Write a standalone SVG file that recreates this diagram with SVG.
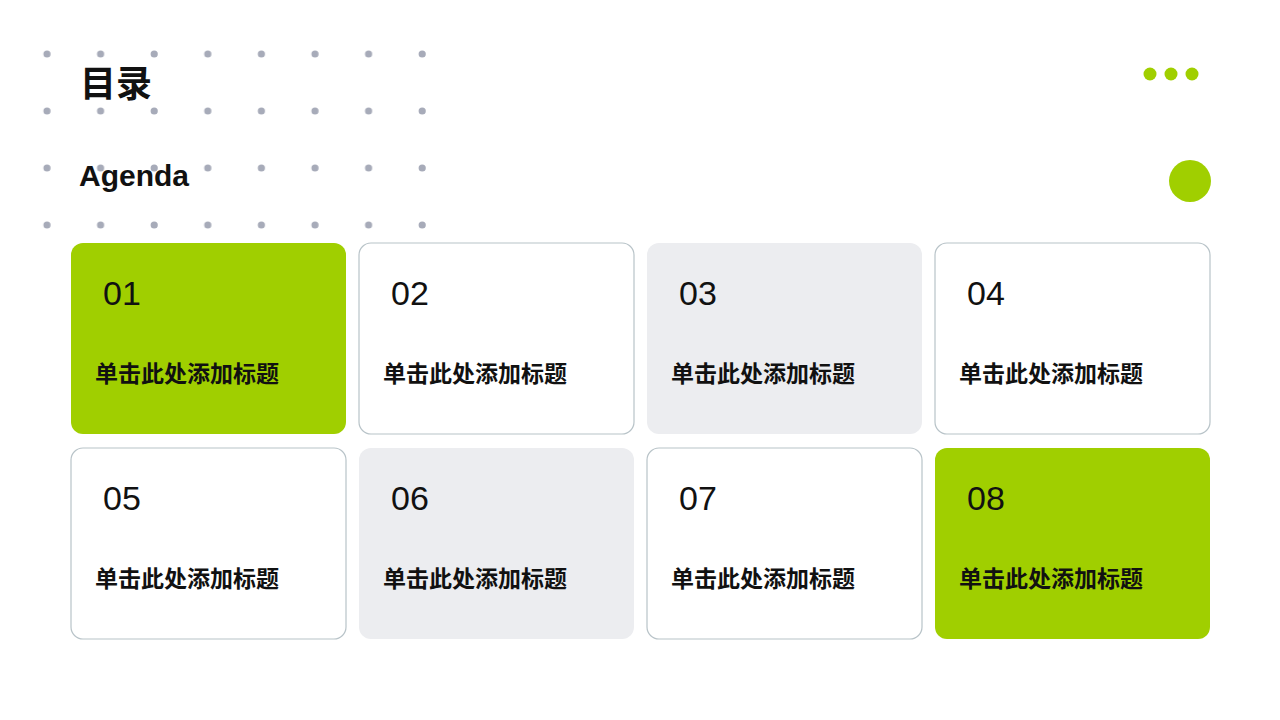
<svg xmlns="http://www.w3.org/2000/svg" width="1280" height="720" viewBox="0 0 1280 720">
<defs>
<style>
.dot{fill:#a7abb9}
.g{fill:#a0cf00}
.card{stroke:none}
.w{fill:#fff;stroke:#b8c3c8;stroke-width:1.2}
.gr{fill:#ecedf0}
.num{font-family:"Liberation Sans",Arial,sans-serif;font-size:34px;fill:#111}
.t{font-family:"Noto Sans CJK SC","Liberation Sans",sans-serif;font-size:23px;font-weight:bold;fill:#111}
</style>
<pattern id="dots" x="20" y="27" width="53.6" height="57" patternUnits="userSpaceOnUse">
<circle cx="27" cy="27" r="3.6" class="dot"/>
</pattern>
</defs>
<rect width="1280" height="720" fill="#fff"/>
<rect x="20" y="27" width="429" height="228" fill="url(#dots)"/>
<text x="80" y="97" font-family="Noto Sans CJK SC,sans-serif" font-size="36" font-weight="bold" fill="#111">目录</text>
<text x="79" y="186" font-family="Liberation Sans,Arial,sans-serif" font-size="30" font-weight="bold" fill="#111">Agenda</text>
<circle cx="1150" cy="74" r="6.5" class="g"/>
<circle cx="1171" cy="74" r="6.5" class="g"/>
<circle cx="1192" cy="74" r="6.5" class="g"/>
<circle cx="1190" cy="181" r="21" class="g"/>
<g id="card1"><rect x="71" y="243" width="275" height="191" rx="12" class="g"/><text x="103" y="305" class="num">01</text><text x="95" y="382" class="t">单击此处添加标题</text></g>
<g id="card2"><rect x="359" y="243" width="275" height="191" rx="12" class="w"/><text x="391" y="305" class="num">02</text><text x="383" y="382" class="t">单击此处添加标题</text></g>
<g id="card3"><rect x="647" y="243" width="275" height="191" rx="12" class="gr"/><text x="679" y="305" class="num">03</text><text x="671" y="382" class="t">单击此处添加标题</text></g>
<g id="card4"><rect x="935" y="243" width="275" height="191" rx="12" class="w"/><text x="967" y="305" class="num">04</text><text x="959" y="382" class="t">单击此处添加标题</text></g>
<g id="card5"><rect x="71" y="448" width="275" height="191" rx="12" class="w"/><text x="103" y="510" class="num">05</text><text x="95" y="587" class="t">单击此处添加标题</text></g>
<g id="card6"><rect x="359" y="448" width="275" height="191" rx="12" class="gr"/><text x="391" y="510" class="num">06</text><text x="383" y="587" class="t">单击此处添加标题</text></g>
<g id="card7"><rect x="647" y="448" width="275" height="191" rx="12" class="w"/><text x="679" y="510" class="num">07</text><text x="671" y="587" class="t">单击此处添加标题</text></g>
<g id="card8"><rect x="935" y="448" width="275" height="191" rx="12" class="g"/><text x="967" y="510" class="num">08</text><text x="959" y="587" class="t">单击此处添加标题</text></g>
<g id="connectors"/>
</svg>
